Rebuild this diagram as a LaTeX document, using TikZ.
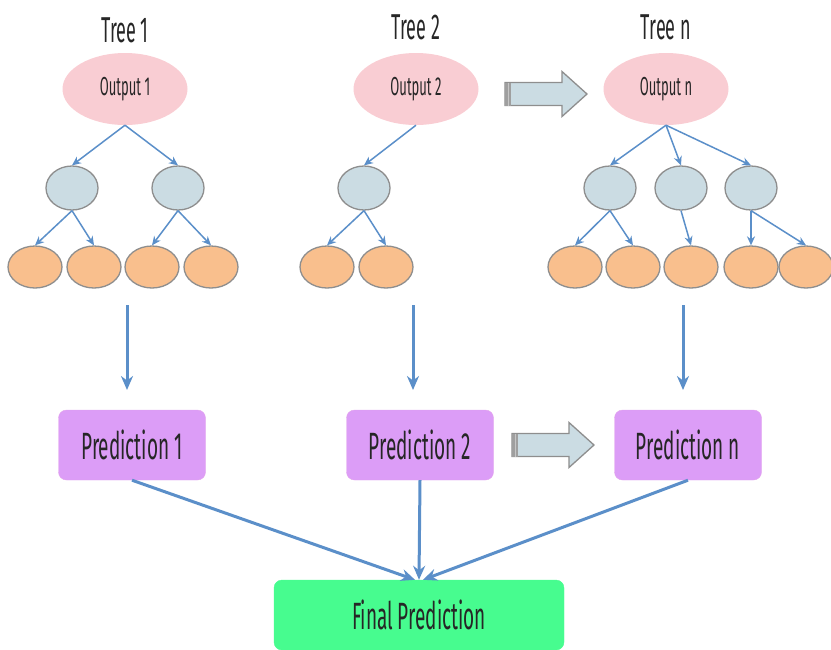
\documentclass[tikz,border=0pt]{standalone}
\usepackage{fontspec}
\setmainfont{Fira Sans}[FakeStretch=0.5]
\usetikzlibrary{arrows.meta,shapes.geometric}
\definecolor{outpink}{HTML}{F9CDD3}
\definecolor{innerblue}{HTML}{CBDCE3}
\definecolor{leaforange}{HTML}{F9BF8D}
\definecolor{predviolet}{HTML}{DC9DF7}
\definecolor{finalgreen}{HTML}{47FC8F}
\definecolor{linkblue}{HTML}{5B8FC9}
\definecolor{rimgray}{HTML}{8E8E8E}
\tikzset{
    treelabel/.style={font=\fontsize{36}{42}\selectfont, text=black!85},
    outnode/.style={ellipse, fill=outpink, minimum width=125, minimum height=72, inner sep=0,
        font=\fontsize{26}{30}\selectfont, text=black!85},
    innernode/.style={ellipse, draw=rimgray, line width=1.3, fill=innerblue, minimum width=52, minimum height=44},
    leafnode/.style={ellipse, draw=rimgray, line width=1.3, fill=leaforange, minimum width=54, minimum height=42},
    prednode/.style={rounded corners=8, fill=predviolet, draw=predviolet!80!pink, minimum width=147, minimum height=70,
        font=\fontsize{38}{44}\selectfont, text=black!85},
    finalnode/.style={prednode, fill=finalgreen, draw=finalgreen, minimum width=290},
    treearrow/.style={draw=linkblue, line width=1.5, -{Stealth[length=9, width=8]}},
    bigarrow/.style={draw=linkblue, line width=3, -{Stealth[length=14, width=12]}},
    pics/hollow arrow/.style={code={
        \draw[rimgray, line width=1.3, fill=innerblue] (0,-11.5) -- (57,-11.5) -- (57,-22.5) -- (82,0)
            -- (57,22.5) -- (57,11.5) -- (0,11.5) -- cycle;
        \fill[gray!75] (0,-11.5) rectangle (6,11.5);
        \draw[gray!45, line width=1] (3,-11.5) -- (3,11.5);
    }},
}
\begin{document}
\begin{tikzpicture}[x=1pt, y=-1pt]
    \useasboundingbox (0,0) rectangle (831,649);

    % tree titles
    \node[treelabel] (t1) at (125,30) {Tree 1};
    \node[treelabel] (t2) at (416,27) {Tree 2};
    \node[treelabel] (tn) at (666,27) {Tree n};

    % outputs
    \node[outnode] (o1) at (125,89) {Output 1};
    \node[outnode] (o2) at (416,89) {Output 2};
    \node[outnode] (on) at (666,89) {Output n};

    % inner nodes
    \node[innernode] (a1) at (72,188) {};
    \node[innernode] (a2) at (178,188) {};
    \node[innernode] (b1) at (364,188) {};
    \node[innernode] (c1) at (610,188) {};
    \node[innernode] (c2) at (681,188) {};
    \node[innernode] (c3) at (751,188) {};

    % leaves
    \foreach \name/\x in {a11/35, a12/94, a21/152, a22/211, b11/327, b12/386,
                          c11/575, c12/633, c21/691, c31/751, c32/806}
        \node[leafnode] (\name) at (\x,267) {};

    % tree edges
    \foreach \from/\to in {o1/a1, o1/a2, o2/b1, on/c1, on/c2, on/c3}
        \draw[treearrow] (\from.south) -- (\to.north);
    \foreach \from/\to in {a1/a11, a1/a12, a2/a21, a2/a22, b1/b11, b1/b12,
                           c1/c11, c1/c12, c2/c21, c3/c31, c3/c32}
        \draw[treearrow] (\from.south) -- (\to.north);

    % predictions
    \node[prednode] (p1) at (132,445) {Prediction 1};
    \node[prednode] (p2) at (420,445) {Prediction 2};
    \node[prednode] (pn) at (688,445) {Prediction n};
    \node[finalnode] (fp) at (419,615) {Final Prediction};

    % from trees to predictions
    \foreach \x [count=\i] in {127,413,683} {
        \coordinate (s\i) at (\x,305);
        \coordinate (e\i) at (\x,390);
        \draw[bigarrow] (s\i) -- (e\i);
    }

    % combine
    \draw[bigarrow] (p1.south) -- ([xshift=-4]fp.north);
    \draw[bigarrow] (p2.south) -- (fp.north);
    \draw[bigarrow] (pn.south) -- ([xshift=4]fp.north);

    % continuation arrows
    \pic at (505,94) {hollow arrow};
    \pic at (512,445) {hollow arrow};
\end{tikzpicture}
\end{document}
